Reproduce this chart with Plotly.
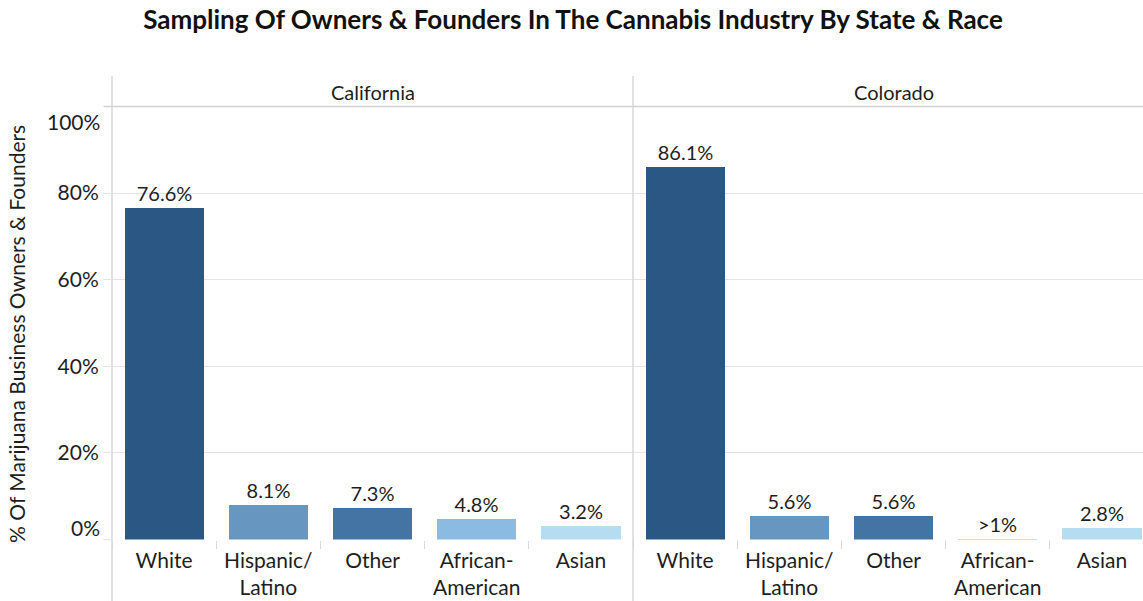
import plotly.graph_objects as go

W, H = 1143, 601

categories = ["White", "Hispanic/<br>Latino", "Other", "African-<br>American", "Asian"]
california = [76.6, 8.1, 7.3, 4.8, 3.2]
colorado = [86.1, 5.6, 5.6, 0.1, 2.8]
california_text = ["76.6%", "8.1%", "7.3%", "4.8%", "3.2%"]
colorado_text = ["86.1%", "5.6%", "5.6%", ">1%", "2.8%"]
colors = ["#2a5783", "#6797c1", "#4474a4", "#8bbbe0", "#b6dcf1"]
y_ticks = [0, 20, 40, 60, 80, 100]
y_ticktext = ["", "20%", "40%", "60%", "80%", ""]

FONT = "Lato"
TXT = "#1e1e1e"
GRID = "#e4e4e4"
TICK_SIZE = 21
VAL_SIZE = 20

def px_x(v):
    return v / W

def px_y(v):
    return (H - v) / H

y_dom = [px_y(539.5), px_y(106.5)]
x1_dom = [px_x(112), px_x(633)]
x2_dom = [px_x(633), 1.0]
slot = (633 - 112) / 5.0

fig = go.Figure()
fig.add_trace(go.Bar(x=categories, y=california, text=california_text, textposition="outside",
                     marker=dict(color=colors, line=dict(width=0)), width=0.76,
                     textfont=dict(family=FONT, size=VAL_SIZE, color=TXT), cliponaxis=False,
                     xaxis="x", yaxis="y", showlegend=False, hoverinfo="x+y"))
fig.add_trace(go.Bar(x=categories, y=colorado, text=colorado_text, textposition="outside",
                     marker=dict(color=colors, line=dict(width=0)), width=0.76,
                     textfont=dict(family=FONT, size=VAL_SIZE, color=TXT), cliponaxis=False,
                     xaxis="x2", yaxis="y2", showlegend=False, hoverinfo="x+y"))

xcommon = dict(type="category", categoryorder="array", categoryarray=categories,
               showgrid=False, zeroline=False, showline=False,
               ticks="outside", tickson="boundaries", ticklen=8, tickcolor="#d8d8d8",
               ticklabelstandoff=6,
               tickfont=dict(family=FONT, size=TICK_SIZE, color=TXT), fixedrange=True)
ycommon = dict(range=[0, 100], tickvals=y_ticks, ticktext=y_ticktext, domain=y_dom,
               showgrid=True, gridcolor=GRID, gridwidth=1, zeroline=False, showline=False,
               tickfont=dict(family=FONT, size=TICK_SIZE, color=TXT), fixedrange=True)

fig.update_layout(
    width=W, height=H,
    margin=dict(l=0, r=0, t=0, b=0),
    paper_bgcolor="white", plot_bgcolor="white",
    bargap=0,
    font=dict(family=FONT, color=TXT),
    title=dict(text="<b>Sampling Of Owners & Founders In The Cannabis Industry By State & Race</b>",
               x=px_x(573), xanchor="center", y=px_y(20), yanchor="middle",
               font=dict(family=FONT, size=26, color="#111111")),
    xaxis=dict(domain=x1_dom, range=[-0.5, 4.5], anchor="y", **xcommon),
    xaxis2=dict(domain=x2_dom, range=[-0.5, 4.5 - (633 + 5 * slot - W) / slot], anchor="y2", **xcommon),
    yaxis=dict(anchor="x", ticks="outside", ticklen=8, tickcolor=GRID, **ycommon),
    yaxis2=dict(anchor="x2", matches="y", ticks="", showticklabels=False, **ycommon),
)

shapes = []
for xv in (112, 633):
    shapes.append(dict(type="line", xref="paper", yref="paper", x0=px_x(xv), x1=px_x(xv),
                       y0=0, y1=px_y(76), line=dict(color="#d9d9d9", width=1.5)))
shapes.append(dict(type="line", xref="paper", yref="paper", x0=px_x(104), x1=1,
                   y0=px_y(106.5), y1=px_y(106.5), line=dict(color="#d2d2d2", width=1.5)))
fig.update_layout(shapes=shapes)

ann = []
ann.append(dict(text="California", xref="paper", yref="paper", x=px_x((112 + 633) / 2), y=px_y(92),
                showarrow=False, xanchor="center", yanchor="middle",
                font=dict(family=FONT, size=20, color=TXT)))
ann.append(dict(text="Colorado", xref="paper", yref="paper", x=px_x(633 + 2.5 * slot), y=px_y(92),
                showarrow=False, xanchor="center", yanchor="middle",
                font=dict(family=FONT, size=20, color=TXT)))
ann.append(dict(text="% Of Marijuana Business Owners & Founders", xref="paper", yref="paper",
                x=px_x(17), y=px_y(334), textangle=-90, showarrow=False,
                xanchor="center", yanchor="middle", font=dict(family=FONT, size=21, color=TXT)))
ann.append(dict(text="0%", xref="paper", yref="y", x=px_x(102), y=0, yshift=12,
                showarrow=False, xanchor="right", yanchor="middle",
                font=dict(family=FONT, size=TICK_SIZE, color=TXT)))
ann.append(dict(text="100%", xref="paper", yref="y", x=px_x(102), y=100, yshift=-15,
                showarrow=False, xanchor="right", yanchor="middle",
                font=dict(family=FONT, size=TICK_SIZE, color=TXT)))
fig.update_layout(annotations=ann)

fig.write_html("out.html", config={"displayModeBar": False},
               post_script="document.body.style.margin='0px';")
